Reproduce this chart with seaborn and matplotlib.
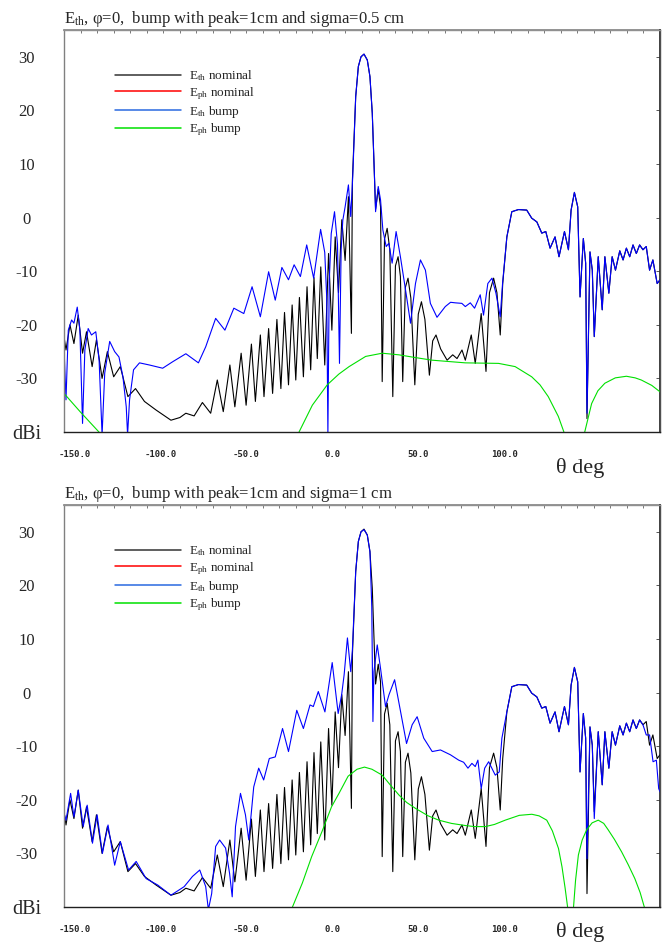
import numpy as np
import pandas as pd
import matplotlib
matplotlib.use("Agg")
import matplotlib.pyplot as plt
import seaborn as sns
from matplotlib.lines import Line2D
from matplotlib.ticker import FixedLocator, NullLocator, FormatStrFormatter

nan = float("nan")

# (theta deg, dBi) read off the two GRASP-style cuts
# E_th nominal, same reflector without bump -> same in both panels
eth_nominal = [
    (-180, -22.2), (-178.8, -24.7), (-176.4, -20.0), (-174, -23.5), (-171.4, -18.2),
    (-168.8, -25.3), (-166.4, -21.3), (-163, -27.8), (-160.4, -22.8), (-157, -30),
    (-153.8, -25), (-150, -29.7), (-146, -27.8), (-141.4, -33.4), (-136.8, -31.9),
    (-131.4, -34.3), (-124.4, -35.9), (-115.4, -37.8), (-110, -37.3), (-106.4, -36.5),
    (-101.4, -37), (-96.4, -34.5), (-91.4, -36.5), (-87.4, -30.3), (-83.8, -36.2),
    (-79.8, -27.5), (-76.8, -35.3), (-73, -25.3), (-70, -35), (-66.8, -23.6),
    (-64.4, -34.3), (-61.4, -21.9), (-59.2, -33.4), (-56.4, -20.7), (-54, -32.8),
    (-51.4, -19), (-49, -31.9), (-46.8, -17.7), (-44.4, -31.2), (-42.2, -16.3),
    (-40, -30.3), (-37.8, -14.9), (-35.4, -29.7), (-33.2, -12.9), (-31, -28.4),
    (-29, -11.2), (-27, -26.3), (-24.9, -9.2), (-22.5, -27.5), (-20.2, -6.7),
    (-18.2, -21), (-16.2, -3.6), (-14.2, -14), (-12.2, -0.4), (-10.2, -8),
    (-8.2, 3.9), (-6.4, -21.6), (-5.8, 7), (-3.8, 22.6), (-2.2, 28.2),
    (-0.6, 30), (1.2, 30.5), (3.2, 29.4), (4.8, 26.3), (6.2, 19.5),
    (7.4, 8.9), (8.2, 1.6), (9.8, 5.3), (11.2, 2), (12.2, -30.6),
    (13.6, -4), (15.2, -2), (16.8, -6), (18.6, -33.4), (20.2, -9),
    (21.8, -7.3), (23.2, -11), (24.6, -30.6), (26.2, -13), (27.8, -11.3),
    (29.5, -15), (31.9, -31.2), (34, -18), (35.9, -15.7), (38, -19),
    (40.7, -29.4), (42.7, -23), (44.7, -21.9), (47.5, -24.5), (51.4, -26.6),
    (54.8, -25.6), (57.4, -26.3), (60.4, -24.7), (62.4, -26.6), (66, -21.9),
    (68.4, -27.2), (72, -17.9), (74.9, -28.7), (77, -14), (79.5, -11.3),
    (81.5, -14), (83.5, -21.9), (85, -12.3), (87.5, -3.6), (90.5, 1.1),
    (94.5, 1.5), (99.5, 1.4), (102.5, -0.1), (105.6, -0.8), (108.6, -2.9),
    (111, -2.6), (113.6, -5.7), (116.6, -3.6), (119, -7.3), (122.3, -2.6),
    (124.7, -6), (126.3, 1.4), (128.3, 4.7), (130.3, 2), (131.7, -14.8),
    (133.7, -3.9), (135.1, -8.5), (135.9, -37.5), (137.7, -6.4), (139.1, -9.8),
    (140.3, -22.2), (142.7, -7.3), (145.1, -17.2), (146.7, -7.3), (149.1, -14.1),
    (151.1, -7.3), (153.1, -9.8), (155.7, -6.2), (157.7, -7.9), (159.7, -5.7),
    (161.7, -7.3), (163.7, -5.1), (165.7, -6.7), (167.7, -5.1), (169.7, -6),
    (171.7, -5.4), (173.7, -9.8), (175.7, -7.9), (178.3, -12.3), (180, -11.6),
]

# E_ph nominal is zero in the phi=0 cut: stays far below the -40 dBi floor
eph_nominal = [(-180, -200.0), (180, -200.0)]

# bump sigma = 0.5 cm
eth_bump_05 = [
    (-180, -24.1), (-178.8, -34), (-177.4, -21), (-175.4, -19.1), (-174, -19.7),
    (-172, -16.7), (-170.4, -21), (-168.8, -38.4), (-167.4, -24.7), (-165.4, -20.7),
    (-163.4, -21.9), (-160.8, -21.3), (-158.8, -26.6), (-157, -40.5), (-155.4, -29),
    (-152.4, -23.1), (-149.4, -25), (-146.8, -26), (-144.4, -29.7), (-142.4, -35.3),
    (-141.6, -40.5), (-140.4, -34), (-138, -28.4), (-134.4, -27.1), (-128.4, -27.5),
    (-120.4, -28.1), (-114.4, -26.9), (-106.4, -25.4), (-98.8, -27.1), (-94.4, -24.1),
    (-88.4, -18.8), (-82.8, -21), (-77.4, -16.9), (-71.4, -17.9), (-66.4, -12.9),
    (-61.4, -18.5), (-56.4, -10.1), (-52.4, -15.4), (-48.4, -9.3), (-44.4, -11.6),
    (-41, -8.8), (-37.2, -11), (-33.4, -5.1), (-29.2, -11.3), (-25, -2.2),
    (-22.5, -6.5), (-21.3, -15), (-20.6, -40.5), (-19.8, -12), (-18.6, -3),
    (-16.6, 1.1), (-14.8, -5), (-13.6, -27.2), (-12.6, -6), (-11.6, -0.5),
    (-10.2, 2), (-8.2, 6.1), (-6.8, 0.2), (-5.6, 7.6), (-3.8, 22.6),
    (-2.2, 28.2), (-0.6, 30), (1.2, 30.5), (3.2, 29.4), (4.8, 26.3),
    (6.2, 19.5), (7.4, 8.9), (8.2, 1.1), (9.8, 5.8), (11.2, 3.3),
    (12.6, -2.3), (14.6, -5.4), (16.2, -4.8), (18.2, -8.5), (20.6, -2.6),
    (23.2, -7.3), (26.6, -14.1), (29.3, -19.7), (32.3, -12.3), (35.3, -7.9),
    (38.3, -9.8), (41.3, -16), (45.3, -18.6), (50.3, -16.6), (53.5, -15.8),
    (56.3, -15.9), (60.3, -16), (62.4, -16.6), (65.4, -15.9), (68, -16.9),
    (71.4, -14.4), (73.4, -18.2), (76, -12.3), (78.5, -11.3), (80.9, -14.1),
    (83.5, -18.5), (84.9, -12.3), (87.5, -3.6), (90.5, 1.1), (94.5, 1.5),
    (99.5, 1.4), (102.5, -0.1), (105.6, -0.8), (108.6, -2.9), (111, -2.6),
    (113.6, -5.7), (116.6, -3.6), (119, -7.3), (122.3, -2.6), (124.7, -6),
    (126.3, 1.4), (128.3, 4.7), (130.3, 2), (131.7, -14.8), (133.7, -3.9),
    (135.1, -8.5), (135.9, -36.5), (137.7, -6.4), (139.1, -9.8), (140.3, -22.2),
    (142.7, -7.3), (145.1, -17.2), (146.7, -7.3), (149.1, -14.1), (151.1, -7.3),
    (153.1, -9.8), (155.7, -6.2), (157.7, -7.9), (159.7, -5.7), (161.7, -7.3),
    (163.7, -5.1), (165.7, -6.7), (167.7, -5.1), (169.7, -6), (171.7, -5.4),
    (173.7, -9.8), (175.7, -7.9), (178.3, -12.3), (180, -11.6),
]

eph_bump_05 = [
    (-180, -32.8), (-170, -36.3), (-158, -40.3), (nan, nan),
    (-38.5, -40.3), (-30, -35), (-21, -31.2), (-14, -29.2), (-7.8, -27.8),
    (2.2, -25.9), (12.2, -25.3), (22.2, -25.6), (32, -26.1), (42.3, -26.6),
    (62.4, -27.1), (82.5, -27.2), (92.5, -27.8), (102.5, -29.7), (107.5, -31.2),
    (112.5, -33.4), (118.6, -37.1), (122.3, -40.3), (nan, nan),
    (134.3, -40.3), (138.7, -34.7), (142.5, -32.3), (146.7, -30.9), (153, -29.9),
    (159.7, -29.6), (165, -29.9), (168.7, -30.3), (175, -31.3), (180, -32.5),
]

# bump sigma = 1 cm
eth_bump_10 = [
    (-180, -22.5), (-178.8, -23.8), (-176, -18.8), (-174, -23.2), (-171.4, -18.2),
    (-168.4, -25), (-166, -21), (-162.8, -28.1), (-160, -22.8), (-156.8, -30),
    (-153.4, -24.7), (-149.4, -32.2), (-146, -27.8), (-141, -33.1), (-136.4, -31.5),
    (-130.4, -34.7), (-123.4, -35.9), (-115.4, -37.8), (-107.4, -36.2), (-102.4, -34.3),
    (-98, -33.1), (-94.4, -36.2), (-92.8, -40.5), (-90.8, -37.5), (-88.4, -28.7),
    (-86, -27.5), (-82.4, -29), (-80, -33.7), (-78.4, -38.1), (-76.4, -25),
    (-73.4, -18.8), (-70.4, -22.8), (-68.4, -27.5), (-65.4, -17.6), (-62.4, -14.1),
    (-59.4, -16.3), (-56, -12.3), (-52.4, -12), (-48, -6.7), (-44.4, -11),
    (-39.4, -3.3), (-35.4, -6.7), (-31.4, -2.3), (-29.4, -2.6), (-26.4, 0.2),
    (-22.4, -3.6), (-18, 5.6), (-14.4, -3.9), (-12.3, -0.4), (-10.8, 3.3),
    (-8.8, 10.2), (-6.8, 3.9), (-5.8, 8), (-3.8, 22.6), (-2.2, 28.2),
    (-0.6, 30), (1.2, 30.4), (3.2, 29.4), (4.8, 26.3), (5.9, 16),
    (6.6, -5.4), (7.2, 3.9), (9.2, 8.9), (11.2, 4.5), (14.2, -2.6),
    (16.3, -0.4), (19.7, 2.4), (23.3, -3.6), (26.9, -9.5), (30.3, -6),
    (33.3, -4.5), (37.3, -8.5), (42.4, -11), (47.4, -10.7), (53.4, -11.6),
    (58.4, -12.6), (61.4, -13), (64, -14.1), (66.4, -13.2), (68.4, -13.8),
    (70, -12.6), (72, -17.9), (74.1, -14.1), (76.5, -12.9), (80.5, -15.4),
    (82.9, -14.8), (84.5, -8.5), (87.5, -3.6), (90.5, 1.1), (94.5, 1.5),
    (99.5, 1.4), (102.5, -0.1), (105.6, -0.8), (108.6, -2.9), (111, -2.6),
    (113.6, -5.7), (116.6, -3.6), (119, -7.3), (122.3, -2.6), (124.7, -6),
    (126.3, 1.4), (128.3, 4.7), (130.3, 2), (131.7, -14.8), (133.7, -3.9),
    (135.1, -8.5), (135.9, -31), (137.7, -6.4), (139.1, -9.8), (140.3, -23.5),
    (142.7, -7.3), (145.1, -17.2), (146.7, -7.3), (149.1, -14.1), (151.1, -7.3),
    (153.1, -9.8), (155.7, -6.2), (157.7, -7.9), (159.7, -5.7), (161.7, -7.3),
    (163.7, -5.1), (165.7, -6.7), (167.7, -5.1), (169.7, -6), (171.7, -7.9),
    (173.7, -7.9), (175.8, -12.9), (177.8, -12.6), (179.2, -17.9), (180, -18.5),
]

eph_bump_10 = [
    (-42.4, -40.3), (-36, -35.5), (-30.4, -30.6), (-24, -25.8), (-18.4, -21.3),
    (-13.9, -18.8), (-8.4, -15.6), (-3, -14.3), (1.5, -13.9), (6, -14.3),
    (12.2, -15.4), (17, -17.2), (22.3, -19.1), (27, -20.5), (32.3, -21.6),
    (40, -23), (46.4, -23.8), (54, -24.4), (62.4, -24.8), (68, -25),
    (74.5, -25), (80, -24.6), (86.5, -23.8), (95, -22.9), (102.6, -22.7),
    (107, -23), (111.6, -23.8), (115, -25.8), (118.7, -29.1), (120.8, -32.5),
    (122.7, -36.5), (124.3, -40.3), (nan, nan),
    (127.7, -40.3), (129, -35), (130.7, -30.3), (133, -27.5), (135.7, -25.6),
    (139, -24.3), (142.7, -23.8), (146, -24.4), (148.7, -25.6), (152.5, -27.4),
    (156.8, -29.7), (160.8, -32.1), (164.8, -34.7), (168, -37.3), (170.8, -40.3),
]

titles = [r"E$_{\rm th}$, φ=0,  bump with peak=1cm and sigma=0.5 cm",
          r"E$_{\rm th}$, φ=0,  bump with peak=1cm and sigma=1 cm"]
legend_labels = [r"E$_{\rm th}$ nominal", r"E$_{\rm ph}$ nominal",
                 r"E$_{\rm th}$ bump", r"E$_{\rm ph}$ bump"]
colors = ["#000000", "#ff0000", "#0000ff", "#00e000"]
legend_colors = ["#333333", "#ff0000", "#2a6ae0", "#00e000"]
ytick_vals = [-40, -30, -20, -10, 0, 10, 20, 30]
ytick_text = ["dBi", "-30", "-20", "-10", "0", "10", "20", "30"]
xlabel_vals = [-150, -100, -50, 0, 50, 100]

sns.set_theme(style="white")
plt.rcParams["font.family"] = ["Liberation Serif", "DejaVu Serif"]
plt.rcParams["mathtext.fontset"] = "custom"
plt.rcParams["mathtext.rm"] = "Liberation Serif"
plt.rcParams["mathtext.it"] = "Liberation Serif:italic"
plt.rcParams["axes.unicode_minus"] = False


# the printed numbers under the axis sit off the tick marks in the original
def to_label(t):
    return 17.2 + 0.963 * np.asarray(t, dtype=float)


def from_label(v):
    return (np.asarray(v, dtype=float) - 17.2) / 0.963


def draw(ax, pts, color):
    df = pd.DataFrame(pts, columns=["theta", "db"])
    df["seg"] = df["db"].isna().cumsum()
    df = df.dropna()
    sns.lineplot(data=df, x="theta", y="db", units="seg", estimator=None,
                 sort=False, color=color, lw=0.8, legend=False, ax=ax)


fig = plt.figure(figsize=(6.62, 9.44), dpi=100)
W, H = 662, 944
panels = [
    (fig.add_axes([64 / W, 1 - 432 / H, 596 / W, 402 / H]), eth_bump_05, eph_bump_05),
    (fig.add_axes([64 / W, 1 - 907 / H, 596 / W, 402 / H]), eth_bump_10, eph_bump_10),
]

for i, (ax, eth_b, eph_b) in enumerate(panels):
    draw(ax, eth_nominal, colors[0])
    draw(ax, eph_nominal, colors[1])
    draw(ax, eth_b, colors[2])
    draw(ax, eph_b, colors[3])

    ax.set_xlim(-180, 180)
    ax.set_ylim(-40, 35)
    ax.set_title(titles[i], loc="left", fontsize=12, pad=5)

    # bottom ticks: every 10 deg, long ones where the original has them
    ax.xaxis.set_major_locator(FixedLocator([-150, -100, 0, 100]))
    ax.xaxis.set_minor_locator(FixedLocator(list(range(-180, 181, 10))))
    ax.tick_params(axis="x", which="major", length=7, width=0.9, color="#222222",
                   labelbottom=False, direction="out")
    ax.tick_params(axis="x", which="minor", length=4, width=0.8, color="#222222",
                   direction="out")
    ax.set_xlabel("θ deg", fontsize=16)
    ax.xaxis.set_label_coords((580 - 64) / 596, -0.064 if i == 0 else -0.037)

    sec = ax.secondary_xaxis("bottom", functions=(to_label, from_label))
    sec.xaxis.set_major_locator(FixedLocator(xlabel_vals))
    sec.xaxis.set_minor_locator(NullLocator())
    sec.xaxis.set_major_formatter(FormatStrFormatter("%.1f"))
    sec.tick_params(length=0, pad=13, labelsize=6.5, labelfontfamily="DejaVu Sans Mono")
    sec.spines["bottom"].set_visible(False)
    for t in sec.get_xticklabels():
        t.set_fontweight("bold")

    top = ax.secondary_xaxis("top")
    top.xaxis.set_major_locator(FixedLocator(list(range(-180, 181, 10))))
    top.tick_params(direction="in", length=2, width=0.7, color="#777777", labeltop=False)
    top.spines["top"].set_color("#888888")

    ax.set_yticks(ytick_vals, labels=ytick_text)
    ax.tick_params(axis="y", length=4, width=0.8, color="#777777", direction="out",
                   pad=23, labelsize=12)
    for t in ax.get_yticklabels():
        t.set_horizontalalignment("center")
    ax.get_yticklabels()[0].set_fontsize(14.5)
    ax.set_ylabel("")

    rgt = ax.secondary_yaxis("right")
    rgt.set_yticks(ytick_vals)
    rgt.tick_params(direction="in", length=3, width=0.7, color="#555555", labelright=False)

    ax.spines["left"].set_color("#808080")
    ax.spines["top"].set_color("#909090")
    ax.spines["right"].set_color("#505050")
    ax.spines["bottom"].set_color("#202020")
    for s in ax.spines.values():
        s.set_linewidth(1)

    handles = [Line2D([0], [0], color=c, lw=1.1) for c in legend_colors]
    ax.legend(handles, legend_labels, loc="upper left",
              bbox_to_anchor=((115 - 64) / 596, 0.905), frameon=False,
              fontsize=9.5, handlelength=5.0, handletextpad=0.6,
              labelspacing=0.15, borderpad=0, borderaxespad=0)

fig.savefig("out.png", dpi=100)
